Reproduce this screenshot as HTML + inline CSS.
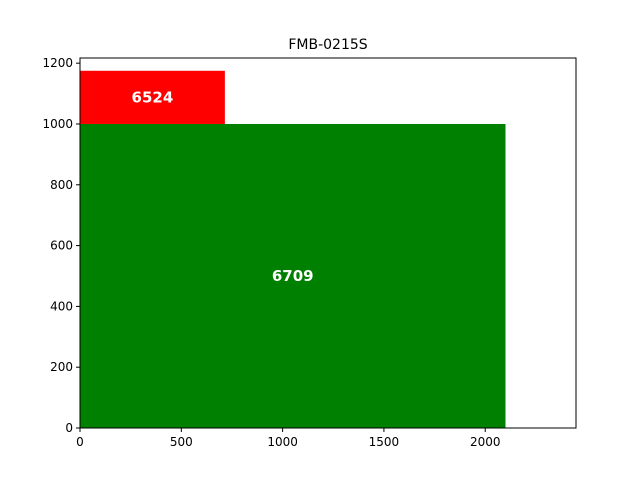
<!DOCTYPE html>
<html><head><meta charset="utf-8"><style>body{margin:0;background:#fff}svg{display:block;font-family:"DejaVu Sans","Liberation Sans",sans-serif}</style></head>
<body>
<svg id="chart" width="640" height="480"></svg>
<script>
const rectX0 = [0, 0];
const rectX1 = [2100, 715];
const rectY0 = [0, 1000];
const rectY1 = [1000, 1175];
const rectLabels = ["6709", "6524"];
const rectColors = ["#008000", "#ff0000"];
const xTicks = [0, 500, 1000, 1500, 2000];
const yTicks = [0, 200, 400, 600, 800, 1000, 1200];
const L=80,R=576,T=58,B=428,XMAX=2448,YMAX=1217;
const sx=v=>L+v/XMAX*(R-L), sy=v=>B-v/YMAX*(B-T);
const svg=document.getElementById('chart');const NS='http://www.w3.org/2000/svg';
function mk(t,a,txt){const e=document.createElementNS(NS,t);for(const k in a)e.setAttribute(k,a[k]);if(txt!=null)e.textContent=txt;svg.appendChild(e);return e;}
for(let i=0;i<rectLabels.length;i++){
 const r=mk('rect',{x:sx(rectX0[i]),y:sy(rectY1[i]),width:sx(rectX1[i])-sx(rectX0[i]),height:sy(rectY0[i])-sy(rectY1[i]),fill:rectColors[i]});
 
 
 const t=mk('text',{x:(sx(rectX0[i])+sx(rectX1[i]))/2,y:(sy(rectY0[i])+sy(rectY1[i]))/2+5,'text-anchor':'middle','font-size':15,'font-weight':'bold',fill:'#fff'},rectLabels[i]);
 
 
}
const f=mk('rect',{x:L,y:T,width:R-L,height:B-T,fill:'none',stroke:'#000','stroke-width':1});


xTicks.forEach(v=>{const x=sx(v);mk('line',{x1:x,x2:x,y1:B,y2:B+4,stroke:'#000'});
 const t=mk('text',{x:x,y:B+18,'text-anchor':'middle','font-size':12},String(v));
 
 });
yTicks.forEach(v=>{const y=sy(v);mk('line',{x1:L-4,x2:L,y1:y,y2:y,stroke:'#000'});
 const t=mk('text',{x:L-7,y:y+4,'text-anchor':'end','font-size':12},String(v));
 
 });
const ti=mk('text',{x:(L+R)/2,y:T-9,'text-anchor':'middle','font-size':14},'FMB-0215S');


</script>
</body></html>
